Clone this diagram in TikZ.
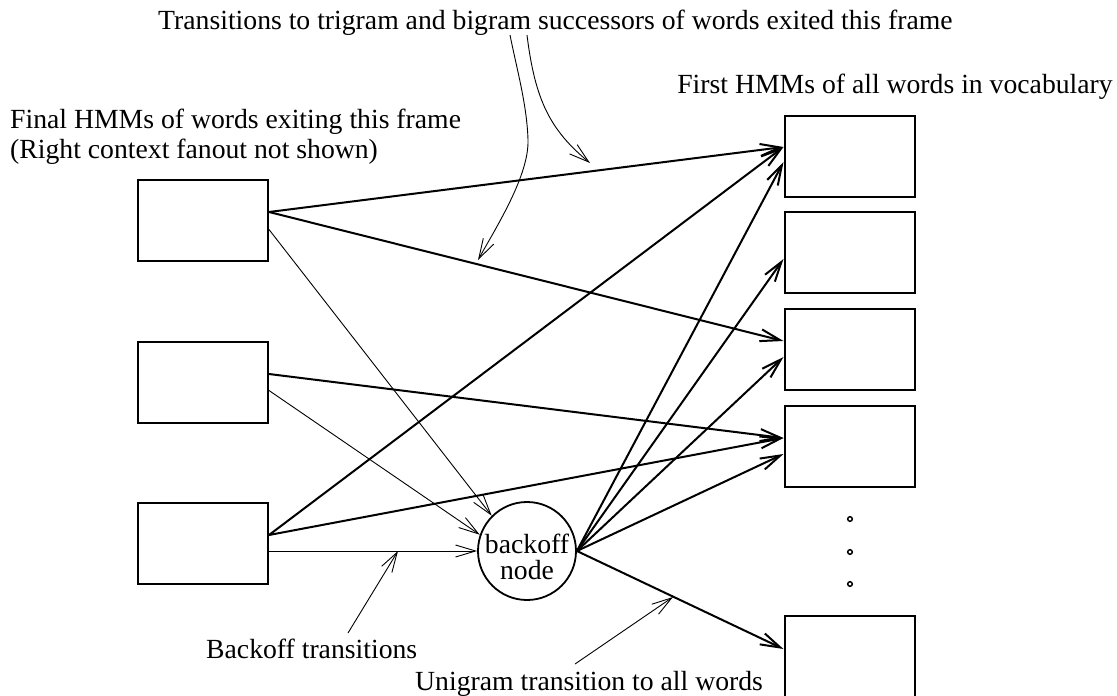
\documentclass[tikz,border=0pt]{standalone}
\usepackage{fontspec}
\setmainfont{Liberation Serif}
\usetikzlibrary{arrows.meta}
\begin{document}
\begin{tikzpicture}[x=1pt,y=-1pt,
  every node/.style={font=\fontsize{27.7pt}{30pt}\selectfont},
  hmm/.style={draw, line width=2pt, minimum width=130pt, minimum height=81pt, inner sep=0pt},
  txt/.style={inner sep=0pt},
  tip/.style={-{Straight Barb[length=20pt,width=12pt]}},
  thickarrow/.style={tip, line width=2pt},
  thinarrow/.style={tip, line width=0.9pt},
  dot/.style={circle, draw, line width=1.5pt, minimum size=4.6pt, inner sep=0pt}
]
\fill[white] (0,0) rectangle (1117,696);
\useasboundingbox (0,0) rectangle (1117,696);

% texts
\node[txt, anchor=base west] (ttrans) at (158,29) {Transitions to trigram and bigram successors of words exited this frame};
\node[txt, anchor=base east] (tfirst) at (1113,93) {First HMMs of all words in vocabulary};
\node[txt, anchor=base west] (tfinal) at (10,128) {Final HMMs of words exiting this frame};
\node[txt, anchor=base west] (tright) at (10,158) {(Right context fanout not shown)};
\node[txt, anchor=base west] (tback) at (206,658) {Backoff transitions};
\node[txt, anchor=base west] (tuni) at (415,690) {Unigram transition to all words};

% left boxes
\node[hmm] (b1) at (203,220.5) {};
\node[hmm] (b2) at (203,382) {};
\node[hmm] (b3) at (203,543.5) {};

% right boxes
\node[hmm] (r1) at (849.5,156) {};
\node[hmm] (r2) at (849.5,252.5) {};
\node[hmm] (r3) at (849.5,349.5) {};
\node[hmm] (r4) at (849.5,446.5) {};
\node[hmm, minimum height=86pt] (r5) at (849.5,659) {};

% dots
\node[dot] (d1) at (850,519) {};
\node[dot] (d2) at (850,552) {};
\node[dot] (d3) at (850,584) {};

% backoff node
\node[circle, draw, line width=1.8pt, minimum size=98pt, inner sep=0pt] (bo) at (527,551) {};
\node[txt, align=center, font=\fontsize{27.7pt}{26pt}\selectfont] (botxt) at (527,557) {backoff\\node};

% thick transitions
\draw[thickarrow] ([yshift=8.5pt]b1.east) -- ([yshift=9pt]r1.west);
\draw[thickarrow] ([yshift=8.5pt]b1.east) -- ([yshift=8.5pt]r3.west);
\draw[thickarrow] ([yshift=8pt]b2.east) -- ([yshift=8.5pt]r4.west);
\draw[thickarrow] ([yshift=8.5pt]b3.east) -- ([yshift=9pt]r1.west);
\draw[thickarrow] ([yshift=8.5pt]b3.east) -- ([yshift=8.5pt]r4.west);

% backoff fanout
\draw[thickarrow] (bo.east) -- ([yshift=-6pt]r1.west);
\draw[thickarrow] (bo.east) -- ([yshift=-6.5pt]r2.west);
\draw[thickarrow] (bo.east) -- ([yshift=-7.5pt]r3.west);
\draw[thickarrow] (bo.east) -- ([yshift=-7.5pt]r4.west);
\draw[thickarrow] (bo.east) -- ([yshift=10pt]r5.west);

% thin backoff transitions
\draw[thinarrow] ([yshift=-9pt]b1.east) -- (bo.135);
\draw[thinarrow] ([yshift=-8.5pt]b2.east) -- (bo.161);
\draw[thinarrow] (b3.east |- bo.west) -- (bo.west);

% annotation pointers
\coordinate (a1s) at (510,35);
\coordinate (a1e) at (478,260);
\draw[thinarrow] (a1s) .. controls (517,70) and (527,105) .. (528,140) .. controls (529,175) and (497.6,225) .. (a1e);
\coordinate (a2s) at (527,35);
\coordinate (a2e) at (590,163);
\draw[thinarrow] (a2s) .. controls (535,100) and (550,130) .. (a2e);
\coordinate (p1s) at (348,633);
\coordinate (p1e) at (398,551);
\draw[thinarrow] (p1s) -- (p1e);
\coordinate (p2s) at (575,664);
\coordinate (p2e) at (673,597);
\draw[thinarrow] (p2s) -- (p2e);
\end{tikzpicture}
\end{document}
